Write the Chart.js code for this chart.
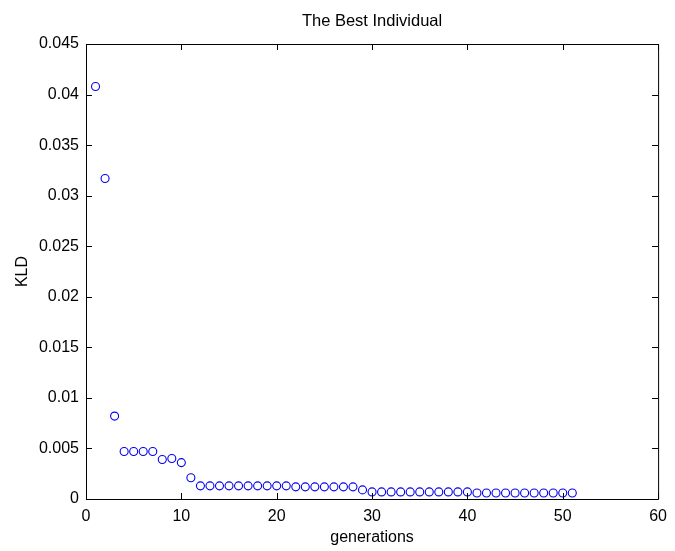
<!DOCTYPE html>
<html>
<head>
<meta charset="utf-8">
<title>The Best Individual</title>
<script src="https://cdn.jsdelivr.net/npm/chart.js@4.4.1/dist/chart.umd.min.js"></script>
<style>
  html, body { margin: 0; padding: 0; background: #fff; }
  canvas { display: block; }
</style>
</head>
<body>
<canvas id="kld-chart" width="675" height="551"></canvas>
<script>
// generations 1..51 and best KLD per generation
const generations = [1, 2, 3, 4, 5, 6, 7, 8, 9, 10,
  11, 12, 13, 14, 15, 16, 17, 18, 19, 20,
  21, 22, 23, 24, 25, 26, 27, 28, 29, 30,
  31, 32, 33, 34, 35, 36, 37, 38, 39, 40,
  41, 42, 43, 44, 45, 46, 47, 48, 49, 50, 51];
const kld = [0.0408, 0.0317, 0.0082, 0.0047, 0.0047, 0.0047, 0.0047, 0.0039, 0.0040, 0.0036,
  0.0021, 0.0013, 0.0013, 0.0013, 0.0013, 0.0013, 0.0013, 0.0013, 0.0013, 0.0013,
  0.0013, 0.0012, 0.0012, 0.0012, 0.0012, 0.0012, 0.0012, 0.0012, 0.0009, 0.0007,
  0.0007, 0.0007, 0.0007, 0.0007, 0.0007, 0.0007, 0.0007, 0.0007, 0.0007, 0.0007,
  0.0006, 0.0006, 0.0006, 0.0006, 0.0006, 0.0006, 0.0006, 0.0006, 0.0006, 0.0006, 0.0006];

const xTicks = [0, 10, 20, 30, 40, 50, 60];
const yTicks = [0, 0.005, 0.01, 0.015, 0.02, 0.025, 0.03, 0.035, 0.04, 0.045];
const yTickLabels = ['0', '0.005', '0.01', '0.015', '0.02', '0.025', '0.03', '0.035', '0.04', '0.045'];

const font = { family: '"Liberation Sans", Arial, Helvetica, sans-serif', size: 16 };

// matlab style box with inward ticks on all four sides
const boxPlugin = {
  id: 'box',
  afterDraw(chart) {
    const { ctx, chartArea: { left, right, top, bottom }, scales: { x, y } } = chart;
    const len = 6;
    ctx.save();
    ctx.strokeStyle = '#000';
    ctx.lineWidth = 1;
    ctx.beginPath();
    ctx.rect(left + 0.5, top + 0.5, right - left, bottom - top);
    x.ticks.forEach(t => {
      const px = Math.round(x.getPixelForValue(t.value)) + 0.5;
      ctx.moveTo(px, bottom); ctx.lineTo(px, bottom - len);
      ctx.moveTo(px, top); ctx.lineTo(px, top + len);
    });
    y.ticks.forEach(t => {
      const py = Math.round(y.getPixelForValue(t.value)) + 0.5;
      ctx.moveTo(left, py); ctx.lineTo(left + len, py);
      ctx.moveTo(right, py); ctx.lineTo(right - len, py);
    });
    ctx.stroke();
    ctx.restore();
  }
};

new Chart(document.getElementById('kld-chart'), {
  type: 'scatter',
  data: {
    datasets: [{
      label: 'KLD',
      data: generations.map((g, i) => ({ x: g, y: kld[i] })),
      pointStyle: 'circle',
      pointRadius: 4,
      pointHoverRadius: 4,
      borderWidth: 1.1,
      borderColor: '#0000ee',
      backgroundColor: 'rgba(0,0,0,0)'
    }]
  },
  options: {
    responsive: false,
    animation: false,
    devicePixelRatio: 1,
    layout: { padding: { left: 0, right: 13, top: 0, bottom: 0 } },
    plugins: {
      legend: { display: false },
      tooltip: { enabled: false }
    },
    scales: {
      // top axis only carries the plot title, centred over the axes box
      top: {
        type: 'linear',
        position: 'top',
        min: 0,
        max: 60,
        afterFit: s => { s.height = 44; },
        grid: { display: false, drawTicks: false },
        border: { display: false },
        ticks: { display: false },
        title: { display: true, text: 'The Best Individual', color: '#000', font: { ...font, size: 16.5 }, padding: { top: 12, bottom: 0 } }
      },
      x: {
        type: 'linear',
        min: 0,
        max: 60,
        afterBuildTicks: s => { s.ticks = xTicks.map(v => ({ value: v })); },
        afterFit: s => { s.height = 52; },
        grid: { display: false, drawTicks: false },
        border: { display: false },
        ticks: { color: '#000', font, padding: 8, maxRotation: 0 },
        title: { display: true, text: 'generations', color: '#000', font, padding: { top: 0, bottom: 4 } }
      },
      y: {
        type: 'linear',
        min: 0,
        max: 0.045,
        afterBuildTicks: s => { s.ticks = yTicks.map(v => ({ value: v })); },
        afterFit: s => { s.width = 86; },
        grid: { display: false, drawTicks: false },
        border: { display: false },
        ticks: {
          color: '#000',
          font,
          padding: 7,
          callback: (v, i) => yTickLabels[i]
        },
        title: { display: true, text: 'KLD', color: '#000', font, padding: { top: 13, bottom: 0 } }
      }
    }
  },
  plugins: [boxPlugin]
});
</script>
</body>
</html>
